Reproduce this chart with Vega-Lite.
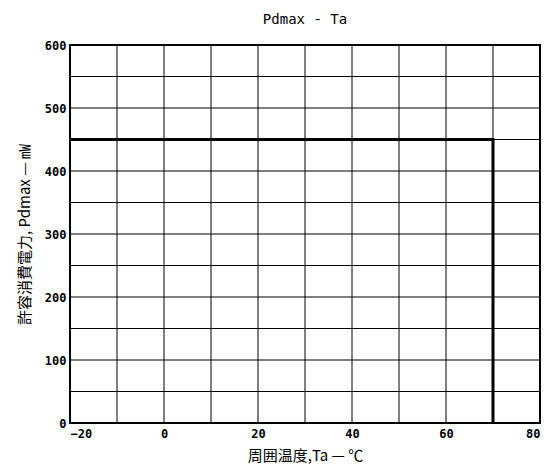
{
  "$schema": "https://vega.github.io/schema/vega-lite/v6.json",
  "width": 470,
  "height": 378,
  "autosize": "none",
  "padding": {"left": 70, "top": 45, "right": 4, "bottom": 47},
  "background": "white",
  "title": {
    "text": "Pdmax - Ta",
    "font": "DejaVu Sans Mono",
    "fontSize": 14,
    "fontWeight": "normal",
    "color": "black",
    "offset": 12,
    "anchor": "middle"
  },
  "config": {
    "view": {"stroke": "black", "strokeWidth": 2},
    "axis": {
      "domain": false,
      "ticks": false,
      "grid": false,
      "labelFont": "DejaVu Sans Mono",
      "labelFontWeight": "bold",
      "labelFontSize": 12,
      "labelColor": "black",
      "titleFont": "Noto Sans CJK JP",
      "titleFontWeight": "normal",
      "titleFontSize": 15,
      "titleColor": "black"
    }
  },
  "datasets": {
    "vgrid": [
      {"ta": -10}, {"ta": 0}, {"ta": 10}, {"ta": 20}, {"ta": 30},
      {"ta": 40}, {"ta": 50}, {"ta": 60}, {"ta": 70}
    ],
    "hgrid": [
      {"pd": 50}, {"pd": 100}, {"pd": 150}, {"pd": 200}, {"pd": 250}, {"pd": 300},
      {"pd": 350}, {"pd": 400}, {"pd": 450}, {"pd": 500}, {"pd": 550}
    ],
    "curve": [
      {"ta": -20, "pd": 450, "o": 1},
      {"ta": 70, "pd": 450, "o": 2},
      {"ta": 70, "pd": 0, "o": 3}
    ]
  },
  "layer": [
    {
      "data": {"name": "vgrid"},
      "mark": {"type": "rule", "color": "black", "strokeWidth": 1},
      "encoding": {
        "x": {
          "field": "ta",
          "type": "quantitative",
          "scale": {"domain": [-20, 80], "nice": false, "zero": false},
          "axis": {
            "values": [-20, 0, 20, 40, 60, 80],
            "labelPadding": 5,
            "title": "周囲温度,Ta  —  ℃",
            "titlePadding": 9
          }
        }
      }
    },
    {
      "data": {"name": "hgrid"},
      "mark": {"type": "rule", "color": "black", "strokeWidth": 1},
      "encoding": {
        "y": {
          "field": "pd",
          "type": "quantitative",
          "scale": {"domain": [0, 600], "nice": false},
          "axis": {
            "values": [0, 100, 200, 300, 400, 500, 600],
            "labelPadding": 4,
            "title": "許容消費電力, Pdmax  —  ㎽",
            "titlePadding": 12
          }
        }
      }
    },
    {
      "data": {"name": "curve"},
      "mark": {"type": "line", "color": "black", "strokeWidth": 3},
      "encoding": {
        "x": {"field": "ta", "type": "quantitative"},
        "y": {"field": "pd", "type": "quantitative"},
        "order": {"field": "o", "type": "quantitative"}
      }
    }
  ]
}
